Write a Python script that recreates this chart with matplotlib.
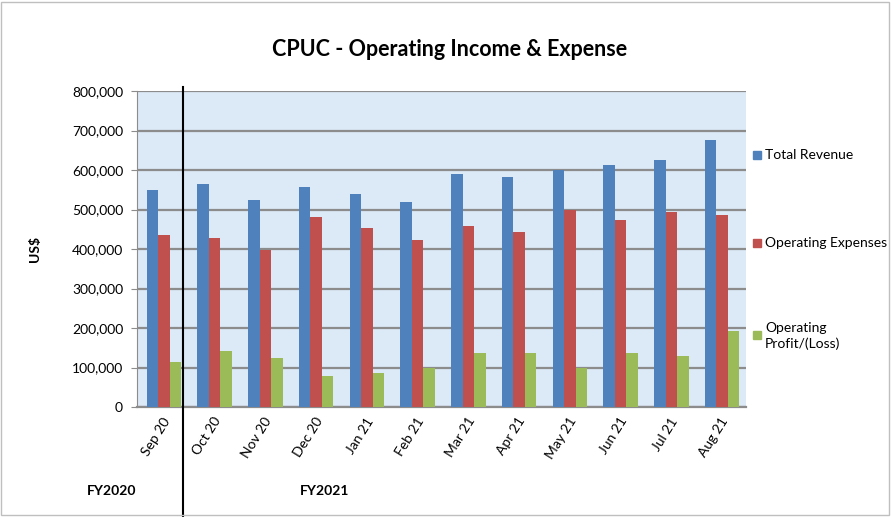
import matplotlib
matplotlib.use("Agg")
import matplotlib.pyplot as plt
import matplotlib.transforms as mtransforms
from matplotlib.lines import Line2D
from matplotlib.patches import Rectangle
import numpy as np

plt.rcParams['font.family'] = ['Lato', 'DejaVu Sans']

months = ["Sep 20", "Oct 20", "Nov 20", "Dec 20", "Jan 21", "Feb 21",
          "Mar 21", "Apr 21", "May 21", "Jun 21", "Jul 21", "Aug 21"]
total_revenue = [549000, 565000, 523000, 557000, 540000, 519000,
                 591000, 582000, 599000, 612000, 625000, 675000]
operating_expense = [435000, 427000, 398000, 481000, 452000, 422000,
                     457000, 444000, 498000, 473000, 494000, 485000]
operating_profit = [113000, 141000, 124000, 78000, 86000, 100000,
                    137000, 137000, 100000, 137000, 128000, 192000]
series_names = ["Total Revenue", "Operating Expenses", "Operating\nProfit/(Loss)"]
colors = ["#4F81BD", "#C0504D", "#9BBB59"]

fig = plt.figure(figsize=(8.91, 5.17), dpi=100)
ax = fig.add_axes([137 / 891, 1 - 407 / 517, 609 / 891, 316 / 517])

x = np.arange(len(months))
w = 0.227
for i, vals in enumerate([total_revenue, operating_expense, operating_profit]):
    ax.bar(x + (i - 1) * w + 0.03, vals, width=w, color=colors[i],
           label=series_names[i], zorder=3)

ax.set_facecolor("#dce9f7")
ax.set_xlim(-0.5, len(months) - 0.5)
ax.set_ylim(0, 800000)
ax.set_yticks(np.arange(0, 800001, 100000))
ax.set_yticklabels([f"{v:,}" for v in range(0, 800001, 100000)], fontsize=10)
ax.yaxis.grid(True, color="#8c8c8c", linewidth=1.6, zorder=1)
ax.set_axisbelow(True)
ax.set_xticks(x)
ax.set_xticklabels(months, rotation=58, ha="right", rotation_mode="anchor", fontsize=10)
ax.tick_params(axis="x", length=0, pad=6)
ax.tick_params(axis="y", length=4, color="#8c8c8c", pad=6)
for s in ["top", "right"]:
    ax.spines[s].set_visible(False)
ax.spines["left"].set_color("#8c8c8c")
ax.spines["bottom"].set_color("#8c8c8c")
ax.spines["bottom"].set_linewidth(1.6)

# fiscal year divider
trans = mtransforms.blended_transform_factory(ax.transData, ax.transAxes)
ax.add_line(Line2D([0.41, 0.41], [-0.36, 1.013], transform=trans,
                   color="black", linewidth=1.5, clip_on=False, zorder=5))

ax.set_ylabel("US$", fontsize=10, fontweight="bold", labelpad=22)
fig.text(0.505, 1 - 50 / 517, "CPUC - Operating Income & Expense",
         ha="center", va="center", fontsize=15.5, fontweight="bold")
fig.text(112 / 891, 1 - 491 / 517, "FY2020", ha="center", va="center",
         fontsize=10, fontweight="bold")
fig.text(325 / 891, 1 - 491 / 517, "FY2021", ha="center", va="center",
         fontsize=10, fontweight="bold")

# legend
legend_y = [155, 243, 335]
for name, c, yy in zip(series_names, colors, legend_y):
    fig.patches.append(Rectangle((753 / 891, 1 - (yy + 4) / 517), 8 / 891, 8 / 517,
                                 transform=fig.transFigure, color=c))
    if "\n" in name:
        fig.text(765 / 891, 1 - (yy - 13) / 517, name, ha="left", va="top",
                 fontsize=10, linespacing=1.3)
    else:
        fig.text(765 / 891, 1 - yy / 517, name, ha="left", va="center", fontsize=10)

fig.patches.append(Rectangle((0.001, 0.003), 0.997, 0.994, transform=fig.transFigure,
                             fill=False, edgecolor="#bfbfbf", linewidth=1))

fig.savefig("out.png", dpi=100)
